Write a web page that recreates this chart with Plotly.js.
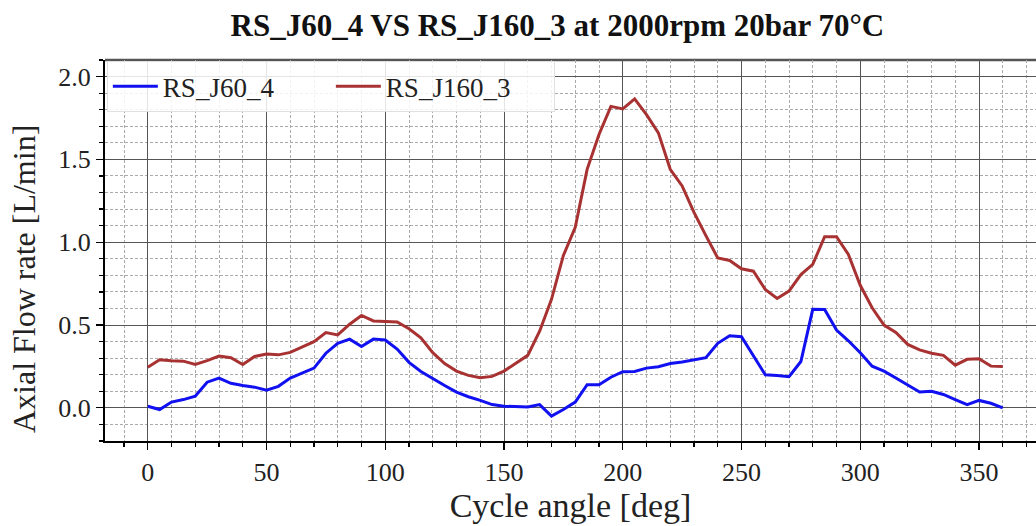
<!DOCTYPE html>
<html>
<head>
<meta charset="utf-8">
<script src="https://cdn.plot.ly/plotly-3.0.1.min.js"></script>
<style>html,body{margin:0;padding:0;background:#fff;}#chart{width:1036px;height:526px;}</style>
</head>
<body>
<div id="chart"></div>
<script>
const angle = [0,5,10,15,20,25,30,35,40,45,50,55,60,65,70,75,80,85,90,95,100,105,110,115,120,125,130,135,140,145,150,155,160,165,170,175,180,185,190,195,200,205,210,215,220,225,230,235,240,245,250,255,260,265,270,275,280,285,290,295,300,305,310,315,320,325,330,335,340,345,350,355,360];
const rsJ60_4 = [0.01,-0.01,0.035,0.05,0.07,0.155,0.18,0.148,0.135,0.125,0.107,0.13,0.18,0.21,0.24,0.33,0.39,0.415,0.37,0.415,0.41,0.355,0.275,0.22,0.175,0.135,0.095,0.067,0.045,0.02,0.01,0.007,0.005,0.02,-0.05,-0.01,0.035,0.14,0.14,0.185,0.218,0.22,0.24,0.248,0.268,0.277,0.29,0.303,0.39,0.435,0.43,0.315,0.2,0.195,0.188,0.28,0.595,0.594,0.47,0.405,0.333,0.252,0.222,0.18,0.136,0.096,0.10,0.081,0.05,0.02,0.045,0.028,0.0];
const rsJ160_3 = [0.245,0.29,0.285,0.282,0.262,0.285,0.313,0.303,0.262,0.31,0.325,0.32,0.335,0.37,0.40,0.455,0.44,0.505,0.558,0.525,0.52,0.518,0.478,0.423,0.333,0.267,0.222,0.196,0.182,0.19,0.222,0.268,0.317,0.463,0.655,0.92,1.09,1.44,1.65,1.82,1.805,1.865,1.77,1.66,1.44,1.34,1.18,1.04,0.905,0.89,0.84,0.825,0.715,0.66,0.705,0.805,0.866,1.033,1.033,0.926,0.74,0.604,0.5,0.455,0.383,0.35,0.33,0.317,0.258,0.293,0.297,0.252,0.25];
const seriesNames = ["RS_J60_4", "RS_J160_3"];
const yTitle = "Axial Flow rate [L/min]";

const font = "Liberation Serif, Times New Roman, serif";
const traces = [
  {x: angle, y: rsJ60_4, type: "scatter", mode: "lines", name: seriesNames[0], line: {color: "#1010f0", width: 3}},
  {x: angle, y: rsJ160_3, type: "scatter", mode: "lines", name: seriesNames[1], line: {color: "#a83232", width: 3}}
];
const layout = {
  width: 1036, height: 526,
  margin: {l: 105, r: 0, t: 60, b: 85},
  paper_bgcolor: "#fff", plot_bgcolor: "#fff",
  font: {family: font, color: "#222"},
  title: {text: "<b>RS_J60_4 VS RS_J160_3 at 2000rpm 20bar 70°C</b>", font: {family: font, size: 31, color: "#111"}, x: 0.538, xanchor: "center", y: 0.972, yanchor: "top"},
  showlegend: true,
  legend: {orientation: "h", x: 0.002, xanchor: "left", y: 0.997, yanchor: "top", bgcolor: "rgba(255,255,255,0.85)", bordercolor: "#e0e0e0", borderwidth: 1, font: {family: font, size: 27, color: "#222"}, itemwidth: 45, entrywidth: 163, entrywidthmode: "pixels"},
  xaxis: {
    range: [-18, 374], tickvals: [0,50,100,150,200,250,300,350], ticktext: ["0","50","100","150","200","250","300","350"],
    ticks: "outside", ticklen: 7, tickwidth: 1.2, tickcolor: "#000",
    showline: true, linecolor: "#000", linewidth: 2,
    showgrid: true, gridcolor: "#555", gridwidth: 1, zeroline: false,
    tickfont: {family: font, size: 26, color: "#222"},
    title: {text: "Cycle angle [deg]", font: {family: font, size: 34, color: "#222"}, standoff: 4},
    minor: {dtick: 10, tick0: 0, ticks: "outside", ticklen: 4, tickcolor: "#000", showgrid: true, gridcolor: "#aaa", griddash: "3px,2px", gridwidth: 1}
  },
  yaxis: {
    range: [-0.2, 2.1], tickvals: [0,0.5,1,1.5,2], ticktext: ["0.0","0.5","1.0","1.5","2.0"],
    ticks: "outside", ticklen: 7, tickwidth: 1.2, tickcolor: "#000",
    showline: true, linecolor: "#000", linewidth: 2,
    showgrid: true, gridcolor: "#555", gridwidth: 1, zeroline: false,
    tickfont: {family: font, size: 26, color: "#222"},
    minor: {dtick: 0.1, tick0: 0, ticks: "outside", ticklen: 4, tickcolor: "#000", showgrid: true, gridcolor: "#aaa", griddash: "3px,2px", gridwidth: 1}
  },
  annotations: [{text: yTitle, xref: "paper", yref: "paper", x: -0.087, y: 0.425, xanchor: "center", yanchor: "middle", textangle: -90, showarrow: false, font: {family: font, size: 32, color: "#222"}}],
  shapes: [{type: "line", xref: "paper", yref: "paper", x0: 0, x1: 1, y0: 1, y1: 1, line: {color: "#555", width: 2.5}, layer: "below"}]
};
Plotly.newPlot("chart", traces, layout, {displayModeBar: false, staticPlot: true});
</script>
</body>
</html>
